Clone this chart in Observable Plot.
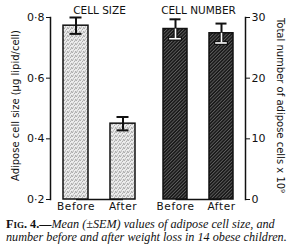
<!DOCTYPE html>
<html>
<head>
<meta charset="utf-8">
<script src="https://cdn.jsdelivr.net/npm/d3@7"></script>
<script src="https://cdn.jsdelivr.net/npm/@observablehq/plot@0.6"></script>
<style>
  html, body { margin: 0; padding: 0; background: #fff; }
  #row { display: flex; width: 294px; }
  #caption { width: 286px; padding: 3px 2px 0 6px; font-family: "Liberation Serif", "DejaVu Serif", serif; font-size: 12.2px; line-height: 13px; color: #111; white-space: nowrap; }
  #caption .fig { font-style: normal; font-weight: bold; font-variant: small-caps; }
  #caption i { font-style: italic; }
</style>
</head>
<body>
<div id="row"></div>
<div id="caption"><span class="fig">Fig. 4.—</span><i>Mean (±SEM) values of adipose cell size, and</i><br><i>number before and after weight loss in 14 obese children.</i></div>
<script>
const categories = ["Before", "After"];
const sizeMean = [0.773, 0.45];
const sizeSem = [0.027, 0.022];
const numberMean = [28.1, 27.4];
const numberSem = [1.6, 1.6];
const sizeTicks = [0.2, 0.4, 0.6, 0.8];
const numberTicks = [0, 10, 20, 30];
const sizeTitle = "CELL SIZE";
const numberTitle = "CELL NUMBER";
const sizeLabel = "Adipose cell size (μg lipid/cell)";
const numberLabel = "Total number of adipose cells x 10⁹";

const sizeData = categories.map((c, i) => ({cat: c, mean: sizeMean[i], lo: sizeMean[i] - sizeSem[i], hi: sizeMean[i] + sizeSem[i]}));
const numberData = categories.map((c, i) => ({cat: c, mean: numberMean[i], lo: numberMean[i] - numberSem[i], hi: numberMean[i] + numberSem[i]}));

const font = "'DejaVu Sans', sans-serif";
const H = 215;

function addDefs(svg, which) {
  const defs = d3.select(svg).insert("defs", ":first-child");
  if (which === "stipple") {
    const st = defs.append("pattern").attr("id", "stipple").attr("patternUnits", "userSpaceOnUse").attr("width", 4).attr("height", 4);
    st.append("rect").attr("width", 4).attr("height", 4).attr("fill", "#ececec");
    [[0,0],[2,1],[1,2.5],[3,3],[2.8,0.2],[0.5,3.5]].forEach(([x,y]) =>
      st.append("rect").attr("x", x).attr("y", y).attr("width", 0.8).attr("height", 0.8).attr("fill", "#8a8a8a"));
  } else {
    const ht = defs.append("pattern").attr("id", "hatch").attr("patternUnits", "userSpaceOnUse").attr("width", 2.4).attr("height", 2.4).attr("patternTransform", "rotate(45)");
    ht.append("rect").attr("width", 2.4).attr("height", 2.4).attr("fill", "#161616");
    ht.append("line").attr("x1", 0.5).attr("x2", 0.5).attr("y1", 0).attr("y2", 2.4).attr("stroke", "#858585").attr("stroke-width", 0.6);
  }
}

const p1 = Plot.plot({
  width: 148, height: H,
  marginLeft: 50, marginRight: 0, marginTop: 17, marginBottom: 16,
  style: {fontFamily: font, fontSize: "10px", color: "#111", background: "transparent"},
  x: {domain: categories, paddingInner: 0.474, paddingOuter: 0.268, label: null},
  y: {domain: [0.2, 0.8], label: null},
  marks: [
    Plot.link([0], {x1: () => "Before", x2: () => "After", y1: () => 0.2, y2: () => 0.2, stroke: "#111", strokeWidth: 1.5}),
    Plot.barY(sizeData, {x: "cat", y1: 0.2, y2: "mean", fill: "url(#stipple)", stroke: "#111", strokeWidth: 1.5}),
    Plot.ruleX(sizeData, {x: "cat", y1: "lo", y2: "hi", stroke: "#111", strokeWidth: 2}),
    Plot.tickY(sizeData, {x: "cat", y: "lo", stroke: "#111", strokeWidth: 2, insetLeft: 6.5, insetRight: 6.5}),
    Plot.tickY(sizeData, {x: "cat", y: "hi", stroke: "#111", strokeWidth: 2, insetLeft: 6.5, insetRight: 6.5}),
    Plot.axisY({ticks: sizeTicks, tickFormat: d => d3.format(".1f")(d).replace(".", "·"), tickSize: 4, tickPadding: 2, label: null, fontSize: 11}),
    Plot.frame({anchor: "left", stroke: "#111", strokeWidth: 1.5}),
    Plot.axisX({tickSize: 0, tickPadding: 3, label: null, fontSize: 10.5}),
    Plot.text([sizeTitle], {frameAnchor: "top", dy: -11, fontSize: 10.5, ariaLabel: "title"}),
    Plot.text([sizeLabel], {frameAnchor: "left", textAnchor: "middle", dx: -35, dy: -3, rotate: -90, fontSize: 10, ariaLabel: "ylabel"})
  ]
});
addDefs(p1, "stipple");

const p2 = Plot.plot({
  width: 146, height: H,
  marginLeft: 3, marginRight: 49, marginTop: 17, marginBottom: 16,
  style: {fontFamily: font, fontSize: "10px", color: "#111", background: "transparent"},
  x: {domain: categories, paddingInner: 0.484, paddingOuter: 0.253, label: null},
  y: {domain: [0, 30], label: null},
  marks: [
    Plot.link([0], {x1: () => "Before", x2: () => "After", y1: () => 0, y2: () => 0, stroke: "#111", strokeWidth: 1.5}),
    Plot.barY(numberData, {x: "cat", y1: 0, y2: "mean", fill: "url(#hatch)", stroke: "#111", strokeWidth: 1.5}),
    Plot.ruleX(numberData, {x: "cat", y1: "mean", y2: "hi", stroke: "#111", strokeWidth: 2}),
    Plot.tickY(numberData, {x: "cat", y: "hi", stroke: "#111", strokeWidth: 2, insetLeft: 6.5, insetRight: 6.5}),
    Plot.ruleX(numberData, {x: "cat", y1: "lo", y2: "mean", stroke: "#111", strokeWidth: 4}),
    Plot.tickY(numberData, {x: "cat", y: "lo", stroke: "#111", strokeWidth: 4, insetLeft: 5, insetRight: 5}),
    Plot.ruleX(numberData, {x: "cat", y1: "lo", y2: "mean", stroke: "#fff", strokeWidth: 1.6}),
    Plot.tickY(numberData, {x: "cat", y: "lo", stroke: "#fff", strokeWidth: 1.6, insetLeft: 6.2, insetRight: 6.2}),
    Plot.axisY({anchor: "right", ticks: numberTicks, tickSize: 4, tickPadding: 2, label: null, fontSize: 11}),
    Plot.frame({anchor: "right", stroke: "#111", strokeWidth: 1.5}),
    Plot.axisX({tickSize: 0, tickPadding: 3, label: null, fontSize: 10.5}),
    Plot.text([numberTitle], {frameAnchor: "top", dy: -11, fontSize: 10.5, ariaLabel: "title"}),
    Plot.text([numberLabel], {frameAnchor: "right", textAnchor: "middle", dx: 35, dy: -3, rotate: 90, fontSize: 10, ariaLabel: "ylabel"})
  ]
});
addDefs(p2, "hatch");

for (const svg of [p1, p2]) {
  d3.select(svg).selectAll('g[aria-label="title"] text').style("letter-spacing", "1.6px");
  d3.select(svg).selectAll('g[aria-label="ylabel"] text').style("letter-spacing", "1px");
  d3.select(svg).selectAll('g[aria-label="x-axis tick label"] text').style("letter-spacing", "0.6px");
}

document.getElementById("row").append(p1, p2);
</script>
</body>
</html>
